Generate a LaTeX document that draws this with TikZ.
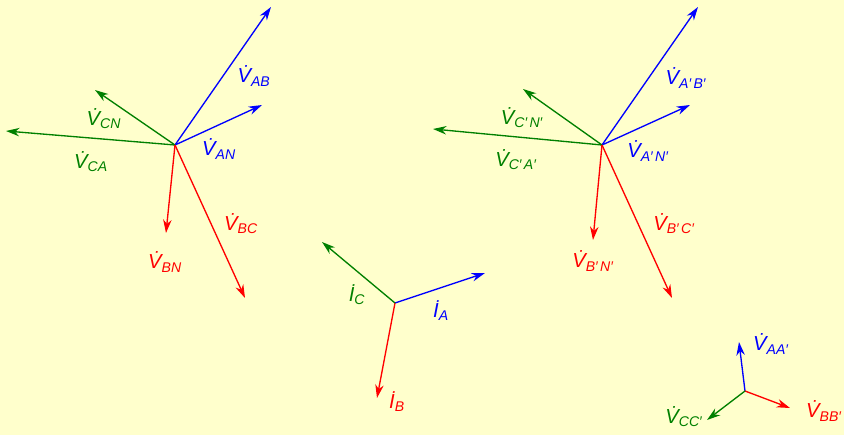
\documentclass[tikz,border=0pt]{standalone}
\usepackage{fontspec}
\setmainfont{Liberation Sans}
\usepackage{tikz}
\usetikzlibrary{arrows.meta}

\definecolor{bgyellow}{RGB}{255,255,204}
\definecolor{phgreen}{RGB}{0,128,0}
\newcommand{\vdot}[1]{\.V\textsubscript{#1}}
\newcommand{\idot}[1]{\.I\textsubscript{#1}}

\begin{document}
\begin{tikzpicture}[x=0.025cm,y=-0.025cm,
    vec/.style={-{Stealth[length=9.5pt,width=6pt,inset=3pt]},line width=0.95pt},
    lbl/.style={font=\Large\itshape,inner sep=0pt}]
\fill[bgyellow] (0,0) rectangle (844,435);
\useasboundingbox (0,0) rectangle (844,435);
% source side
\coordinate (n1) at (175,145);
\coordinate (ab) at (271,7);
\coordinate (an) at (262,105);
\coordinate (cn) at (95,90);
\coordinate (ca) at (6,131);
\coordinate (bn) at (166,233);
\coordinate (bc) at (245,298);
\draw[vec,blue] (n1) -- (ab);
\draw[vec,blue] (n1) -- (an);
\draw[vec,phgreen] (n1) -- (cn);
\draw[vec,phgreen] (n1) -- (ca);
\draw[vec,red] (n1) -- (bn);
\draw[vec,red] (n1) -- (bc);
\node[lbl,blue] (lab) at (254,76) {\vdot{AB}};
\node[lbl,blue] (lan) at (219,149) {\vdot{AN}};
\node[lbl,phgreen] (lcn) at (104,119) {\vdot{CN}};
\node[lbl,phgreen] (lca) at (91,162) {\vdot{CA}};
\node[lbl,red] (lbn) at (165,262) {\vdot{BN}};
\node[lbl,red] (lbc) at (241,224) {\vdot{BC}};
% load side
\coordinate (n2) at (602,145);
\coordinate (abp) at (698,7);
\coordinate (anp) at (690,105);
\coordinate (cnp) at (523,89);
\coordinate (cap) at (433,129);
\coordinate (bnp) at (593,240);
\coordinate (bcp) at (672,298);
\draw[vec,blue] (n2) -- (abp);
\draw[vec,blue] (n2) -- (anp);
\draw[vec,phgreen] (n2) -- (cnp);
\draw[vec,phgreen] (n2) -- (cap);
\draw[vec,red] (n2) -- (bnp);
\draw[vec,red] (n2) -- (bcp);
\node[lbl,blue] (labp) at (686,78) {\vdot{A′\,B′}};
\node[lbl,blue] (lanp) at (648,151) {\vdot{A′\,N′}};
\node[lbl,phgreen] (lcnp) at (522,118) {\vdot{C′\,N′}};
\node[lbl,phgreen] (lcap) at (516,160) {\vdot{C′\,A′}};
\node[lbl,red] (lbnp) at (593,261) {\vdot{B′\,N′}};
\node[lbl,red] (lbcp) at (674,224) {\vdot{B′\,C′}};
% line currents
\coordinate (n3) at (395,303);
\coordinate (ia) at (485,273);
\coordinate (ib) at (377,398);
\coordinate (ic) at (322,242);
\draw[vec,blue] (n3) -- (ia);
\draw[vec,red] (n3) -- (ib);
\draw[vec,phgreen] (n3) -- (ic);
\node[lbl,blue] (lia) at (441,311) {\idot{A}};
\node[lbl,red] (lib) at (397,402) {\idot{B}};
\node[lbl,phgreen] (lic) at (357,295) {\idot{C}};
% line drops
\coordinate (n4) at (745,391);
\coordinate (aa) at (739,342);
\coordinate (bb) at (790,408);
\coordinate (cc) at (707,420);
\draw[vec,blue] (n4) -- (aa);
\draw[vec,red] (n4) -- (bb);
\draw[vec,phgreen] (n4) -- (cc);
\node[lbl,blue] (laa) at (771,344) {\vdot{AA′}};
\node[lbl,red] (lbb) at (824,411) {\vdot{BB′}};
\node[lbl,phgreen] (lcc) at (684,417) {\vdot{CC′}};
\end{tikzpicture}
\end{document}
